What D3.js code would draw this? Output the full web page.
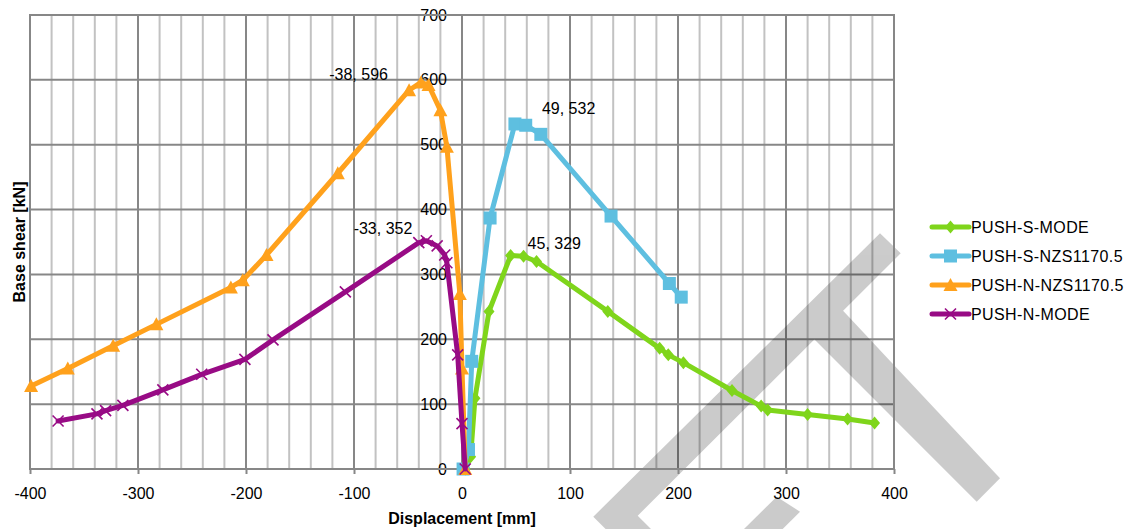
<!DOCTYPE html>
<html>
<head>
<meta charset="utf-8">
<script src="https://cdn.jsdelivr.net/npm/d3@7"></script>
<style>
  body { margin: 0; background: #fff; }
  svg { display: block; }
  text { font-family: "Liberation Sans", Arial, sans-serif; fill: #000; }
</style>
</head>
<body>
<svg id="chart" width="1133" height="529"></svg>
<script>
// ---- data: pushover curves, displacement [mm] vs base shear [kN] ----
const seriesNames = ["PUSH-S-MODE", "PUSH-S-NZS1170.5", "PUSH-N-NZS1170.5", "PUSH-N-MODE"];

const pushSModeX = [3, 8, 12, 25, 45, 57, 69, 135, 183, 191, 205, 250, 277, 283, 320, 357, 382];
const pushSModeY = [0, 19, 109, 243, 329, 328, 320, 243, 186, 176, 164, 121, 97, 91, 84, 77, 71];

const pushSNzsX = [1, 6, 9, 26, 49, 59, 73, 138, 192, 203];
const pushSNzsY = [0, 30, 166, 387, 532, 530, 516, 390, 286, 265];

const pushNNzsX = [3, 0, -2, -14, -20, -31, -38, -49, -115, -181, -203, -214, -283, -323, -365, -399];
const pushNNzsY = [0, 155, 270, 497, 553, 592, 596, 584, 456, 330, 291, 280, 223, 190, 155, 128];

const pushNModeX = [3, 0, -4, -14, -16, -23, -33, -40, -108, -175, -201, -241, -277, -314, -330, -338, -374];
const pushNModeY = [0, 70, 176, 318, 330, 344, 352, 349, 273, 199, 169, 146, 122, 98, 90, 85, 74];

const xTicks = [-400, -300, -200, -100, 0, 100, 200, 300, 400];
const yTicks = [0, 100, 200, 300, 400, 500, 600, 700];

// series index, point index of the annotated peaks
const peakLabels = [
  { s: 2, i: 6 },
  { s: 3, i: 6 },
  { s: 1, i: 4 },
  { s: 0, i: 4 }
];

// ---- styling ----
const colors = ["#7fd51b", "#5ebfe0", "#ffa11c", "#980b85"];
const markerKinds = ["diamond", "square", "triangle", "cross"];
// offsets for the peak annotations, in the order of peakLabels
const labelOffsets = [[-33, -8, "end"], [-14, -12, "end"], [27, -15, "start"], [17, -12, "start"]];

const series = [
  { x: pushSModeX, y: pushSModeY },
  { x: pushSNzsX, y: pushSNzsY },
  { x: pushNNzsX, y: pushNNzsY },
  { x: pushNModeX, y: pushNModeY }
].map((d, k) => ({
  name: seriesNames[k],
  color: colors[k],
  marker: markerKinds[k],
  points: d.x.map((v, j) => ({ x: v, y: d.y[j] }))
}));

const svg = d3.select("#chart");
svg.append("rect").attr("width", 1133).attr("height", 529).attr("fill", "#fff");

const x = d3.scaleLinear().domain([-400, 400]).range([30, 894]);
const y = d3.scaleLinear().domain([0, 700]).range([469, 15]);

const majorGrid = "#878787";
const minorGrid = "#c2c2c2";
const fmt = d => String(d); // plain hyphen for negatives

// minor vertical grid every 20 mm
const grid = svg.append("g");
grid.selectAll("line.minor")
  .data(d3.range(-400, 401, 20).filter(v => v % 100 !== 0))
  .join("line")
  .attr("x1", d => x(d)).attr("x2", d => x(d))
  .attr("y1", y(0)).attr("y2", y(700))
  .attr("stroke", minorGrid).attr("stroke-width", 2);

// major grid
grid.selectAll("line.vmaj")
  .data(xTicks)
  .join("line")
  .attr("x1", d => x(d)).attr("x2", d => x(d))
  .attr("y1", y(0)).attr("y2", y(700))
  .attr("stroke", majorGrid).attr("stroke-width", 2);
grid.selectAll("line.hmaj")
  .data(yTicks)
  .join("line")
  .attr("x1", x(-400)).attr("x2", x(400))
  .attr("y1", d => y(d)).attr("y2", d => y(d))
  .attr("stroke", majorGrid).attr("stroke-width", 2);

// grey stamp behind the curves
const stamp = svg.append("g").attr("opacity", 0.2).attr("fill", "#000");
const stampShapes = [
  [[880, 233.3], [900.7, 253.3], [637.7, 515.7], [651, 529], [605.6, 529], [593.3, 516.7]],
  [[833, 300], [1000, 478.3], [976.7, 501.7], [808, 333]],
  [[776.7, 496.7], [800, 511.7], [782.7, 529], [744, 529]]
];
stamp.selectAll("path").data(stampShapes).join("path")
  .attr("d", d => "M" + d.map(p => p.join(",")).join("L") + "Z");

// x axis
const xAxis = svg.append("g")
  .attr("transform", `translate(0,${y(0)})`)
  .call(d3.axisBottom(x).tickValues(xTicks).tickSize(5).tickPadding(14).tickFormat(fmt));
xAxis.select(".domain").remove();
xAxis.selectAll(".tick line").attr("stroke", majorGrid).attr("stroke-width", 2);
xAxis.selectAll(".tick text").attr("font-size", 16).attr("font-family", "Liberation Sans, Arial, sans-serif").attr("fill", "#000");

// y axis crosses at zero displacement
const yAxis = svg.append("g")
  .attr("transform", `translate(${x(0)},0)`)
  .call(d3.axisLeft(y).tickValues(yTicks).tickSize(0).tickPadding(15).tickFormat(fmt));
yAxis.select(".domain").remove();
yAxis.selectAll(".tick text").attr("font-size", 16).attr("font-family", "Liberation Sans, Arial, sans-serif").attr("fill", "#000");

// plot frame
svg.append("rect")
  .attr("x", x(-400)).attr("y", y(700))
  .attr("width", x(400) - x(-400)).attr("height", y(0) - y(700))
  .attr("fill", "none").attr("stroke", majorGrid).attr("stroke-width", 2);

// axis titles
svg.append("text")
  .attr("x", x(0)).attr("y", 518)
  .attr("text-anchor", "middle").attr("dominant-baseline", "central")
  .attr("font-size", 16).attr("font-weight", "bold")
  .text("Displacement [mm]");
svg.append("text")
  .attr("transform", `translate(19,${(y(0) + y(700)) / 2}) rotate(-90)`)
  .attr("text-anchor", "middle").attr("dominant-baseline", "central")
  .attr("font-size", 16).attr("font-weight", "bold")
  .text("Base shear [kN]");

// marker drawing
function drawMarker(g, kind, color) {
  if (kind === "diamond") {
    g.append("path").attr("d", "M0,-6.5L5.5,0L0,6.5L-5.5,0Z").attr("fill", color);
  } else if (kind === "square") {
    g.append("rect").attr("x", -6.5).attr("y", -6.5).attr("width", 13).attr("height", 13).attr("fill", color);
  } else if (kind === "triangle") {
    g.append("path").attr("d", "M0,-7L7,6L-7,6Z").attr("fill", color);
  } else {
    g.append("path").attr("d", "M-5.5,-5.5L5.5,5.5M-5.5,5.5L5.5,-5.5")
      .attr("stroke", color).attr("stroke-width", 1.6).attr("fill", "none");
  }
}

const line = d3.line().x(d => x(d.x)).y(d => y(d.y));

const plot = svg.append("g");
series.forEach(s => {
  const g = plot.append("g");
  g.append("path").datum(s.points)
    .attr("d", line)
    .attr("fill", "none").attr("stroke", s.color)
    .attr("stroke-width", 5).attr("stroke-linejoin", "round").attr("stroke-linecap", "round");
  g.selectAll("g.m").data(s.points).join("g")
    .attr("transform", d => `translate(${x(d.x)},${y(d.y)})`)
    .each(function () { drawMarker(d3.select(this), s.marker, s.color); });
});

// peak annotations
peakLabels.forEach((l, k) => {
  const p = series[l.s].points[l.i];
  const [dx, dy, anchor] = labelOffsets[k];
  svg.append("text")
    .attr("x", x(p.x) + dx).attr("y", y(p.y) + dy)
    .attr("text-anchor", anchor).attr("dominant-baseline", "central")
    .attr("font-size", 16)
    .text(`${p.x},  ${p.y}`);
});

// legend
const legend = svg.append("g").attr("transform", "translate(932,227)");
series.forEach((s, k) => {
  const row = legend.append("g").attr("transform", `translate(0,${k * 29})`);
  row.append("line").attr("x1", 0).attr("x2", 37).attr("y1", 0).attr("y2", 0)
    .attr("stroke", s.color).attr("stroke-width", 5).attr("stroke-linecap", "round");
  drawMarker(row.append("g").attr("transform", "translate(18.5,0)"), s.marker, s.color);
  row.append("text").attr("x", 39).attr("y", 0)
    .attr("dominant-baseline", "central").attr("font-size", 16).attr("letter-spacing", 0.4)
    .text(s.name);
});
</script>
</body>
</html>
